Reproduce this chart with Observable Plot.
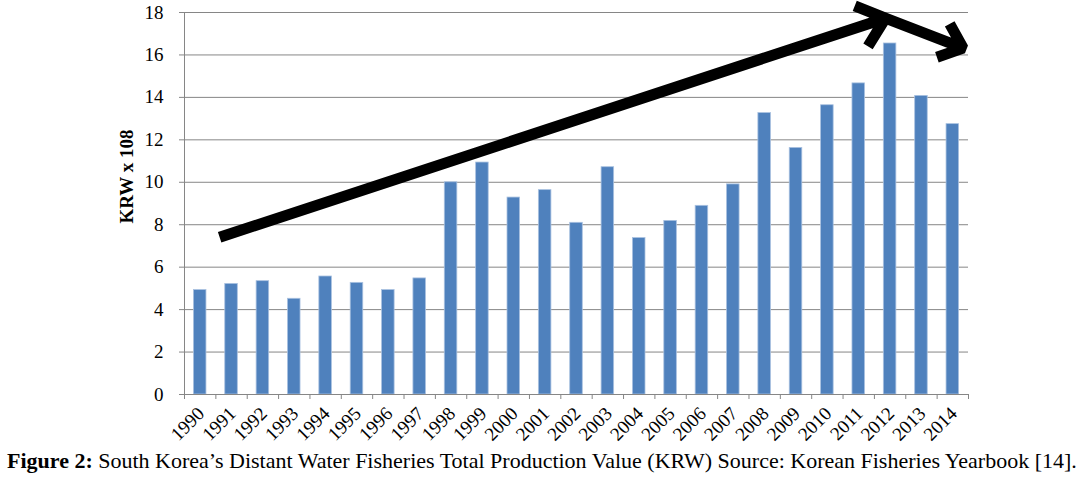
<!DOCTYPE html>
<html>
<head>
<meta charset="utf-8">
<script src="https://cdn.jsdelivr.net/npm/d3@7"></script>
<script src="https://cdn.jsdelivr.net/npm/@observablehq/plot@0.6"></script>
<style>
  html, body { margin: 0; padding: 0; background: #fff; }
  #chart { width: 1090px; }
  .caption { font-family: "Liberation Serif", "Times New Roman", serif; font-size: 22px; color: #000; margin: 2px 0 0 7px; white-space: nowrap; line-height: 24px; }
</style>
</head>
<body>
<div id="chart"></div>
<script>
const years = [1990,1991,1992,1993,1994,1995,1996,1997,1998,1999,2000,2001,2002,2003,2004,2005,2006,2007,2008,2009,2010,2011,2012,2013,2014];
const values = [4.92,5.21,5.34,4.51,5.56,5.26,4.92,5.47,10.0,10.93,9.28,9.63,8.09,10.71,7.37,8.18,8.89,9.90,13.26,11.62,13.63,14.66,16.54,14.07,12.74];
const yTicks = [0,2,4,6,8,10,12,14,16,18];
// trend arrow annotation (year, value) points
const arrowX = [1990.62, 2011.85, 2014.33];
const arrowY = [7.41, 17.73, 16.32];
const yLabel = "KRW x 108";
const captionBold = "Figure 2:";
const captionText = " South Korea\u2019s Distant Water Fisheries Total Production Value (KRW) Source: Korean Fisheries Yearbook [14].";

const data = years.map((year, i) => ({year, value: values[i]}));
const arrows = [0, 1].map(i => ({x1: arrowX[i], y1: arrowY[i], x2: arrowX[i + 1], y2: arrowY[i + 1]}));
const boundaries = years.map(y => y - 0.5).concat([years[years.length - 1] + 0.5]);

const plot = Plot.plot({
  width: 1090,
  height: 447,
  marginLeft: 184,
  marginRight: 122,
  marginTop: 12,
  marginBottom: 53,
  style: {fontFamily: "'Liberation Serif', 'Times New Roman', serif", fontSize: "19px", color: "#000", background: "#fff"},
  x: {type: "linear", domain: [1989.5, 2014.5]},
  y: {domain: [0, 18]},
  marks: [
    Plot.gridY(yTicks, {stroke: "#868686", strokeOpacity: 1, strokeWidth: 1}),
    Plot.rectY(data, {x1: d => d.year - 0.2, x2: d => d.year + 0.2, y: "value", fill: "#4F81BD", stroke: "#a9c1e0", strokeWidth: 0.8}),
    Plot.ruleY([0], {stroke: "#868686"}),
    Plot.ruleX([1989.5], {stroke: "#868686"}),
    Plot.axisY(yTicks, {tickSize: 5, tickPadding: 16, stroke: "#868686", label: null, tickFormat: d => String(d)}),
    Plot.axisX(boundaries, {tickSize: 5, stroke: "#868686", text: null, label: null}),
    Plot.axisX(years, {tickSize: 0, tickPadding: 16, tickRotate: -45, label: null, tickFormat: d => String(d), dx: 1}),
    Plot.text([yLabel], {frameAnchor: "left", dx: -58, dy: 20, rotate: -90, fontSize: 19, fontWeight: "bold"}),
    Plot.arrow(arrows, {x1: "x1", y1: "y1", x2: "x2", y2: "y2", stroke: "#000", strokeWidth: 11, headLength: 4.5, headAngle: 80, strokeLinecap: "butt", strokeLinejoin: "miter"})
  ]
});
document.getElementById("chart").appendChild(plot);
const cap = document.createElement("div");
cap.className = "caption";
const b = document.createElement("b");
b.textContent = captionBold;
cap.appendChild(b);
cap.appendChild(document.createTextNode(captionText));
document.getElementById("chart").appendChild(cap);
</script>
</body>
</html>
